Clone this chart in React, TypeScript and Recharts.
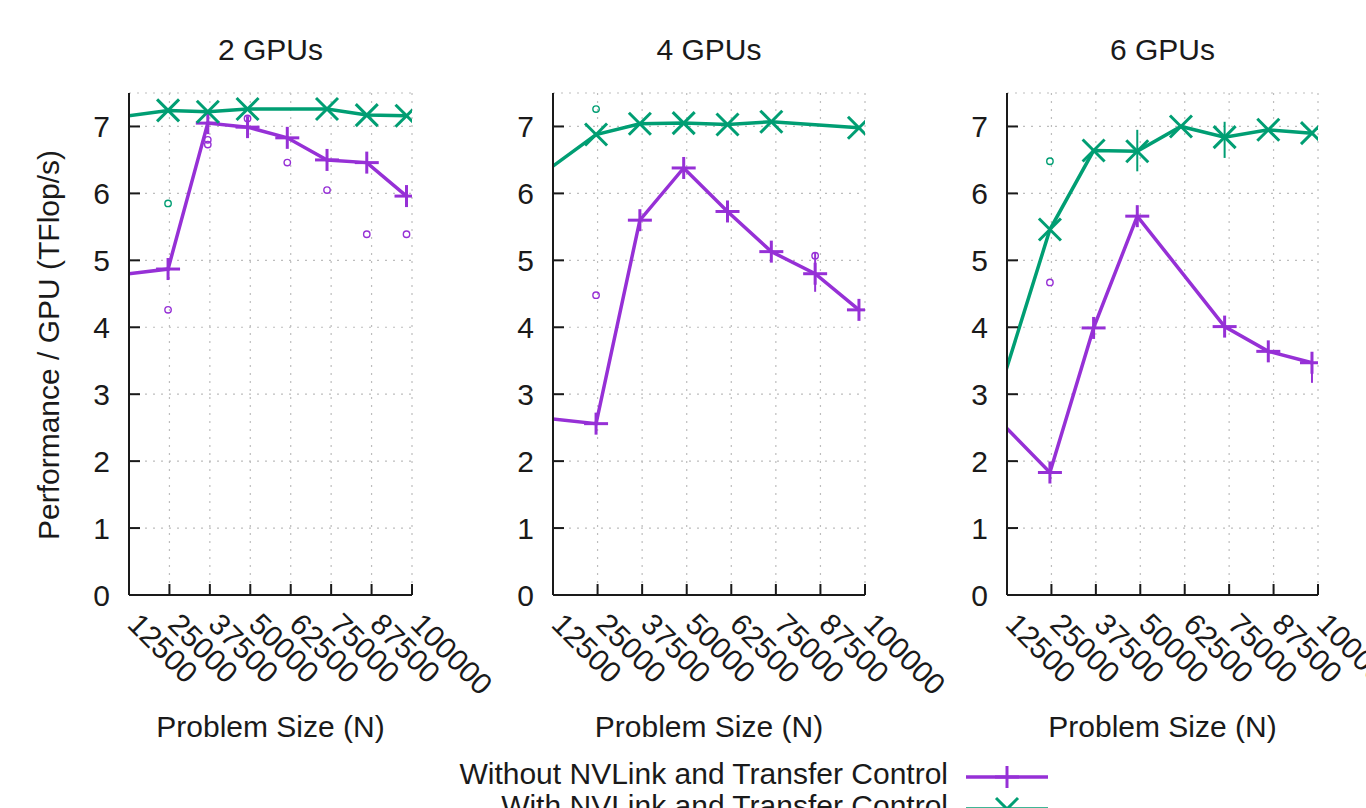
import React from "react";
import {
  CartesianGrid,
  ComposedChart,
  ErrorBar,
  Line,
  Scatter,
  XAxis,
  YAxis,
} from "recharts";

const SIZES = [12288, 24576, 36864, 49152, 61440, 73728, 86016, 98304];
const X_TICKS = [12500, 25000, 37500, 50000, 62500, 75000, 87500, 100000];
const Y_TICKS = [0, 1, 2, 3, 4, 5, 6, 7];
const TITLES = ["2 GPUs", "4 GPUs", "6 GPUs"];
const SERIES = ["Without NVLink and Transfer Control", "With NVLink and Transfer Control"];

// TFlop/s per GPU, one value per problem size (null = no run)
const WITHOUT_2 = [4.8, 4.87, 7.05, 6.99, 6.83, 6.5, 6.46, 5.96];
const WITH_2 = [7.16, 7.24, 7.22, 7.26, null, 7.26, 7.17, 7.16];
const WITHOUT_4 = [2.63, 2.56, 5.6, 6.38, 5.73, 5.13, 4.8, 4.26];
const WITH_4 = [6.4, 6.88, 7.04, 7.05, 7.03, 7.07, null, 6.98];
const WITHOUT_6 = [2.5, 1.83, 3.99, 5.66, null, 4.01, 3.64, 3.47];
const WITH_6 = [3.37, 5.46, 6.64, 6.63, 7.0, 6.84, 6.95, 6.9];

// run-to-run spread [below, above]
const WITHOUT_ERR_2 = [null, null, null, null, null, null, null, null];
const WITH_ERR_2 = [null, null, null, null, null, null, null, null];
const WITHOUT_ERR_4 = [null, null, null, null, null, null, [0.27, 0.31], null];
const WITH_ERR_4 = [null, null, null, null, null, null, null, null];
const WITHOUT_ERR_6 = [null, null, null, null, null, null, null, [0.3, 0.15]];
const WITH_ERR_6 = [null, null, null, [0.3, 0.32], null, [0.31, 0.23], null, null];

// single outlier runs [size, value]
const OUT_WITHOUT_2 = [
  [24576, 4.26], [36864, 6.8], [36864, 6.73], [49152, 7.12],
  [61440, 6.46], [73728, 6.05], [86016, 5.39], [98304, 5.39],
];
const OUT_WITH_2 = [[24576, 5.85]];
const OUT_WITHOUT_4 = [[24576, 4.48], [86016, 5.07]];
const OUT_WITH_4 = [[24576, 7.26]];
const OUT_WITHOUT_6 = [[24576, 4.67]];
const OUT_WITH_6 = [[24576, 6.48]];

const PURPLE = "#9630d6";
const GREEN = "#009e73";
const INK = "#1a1a1a";
const FONT = "'Liberation Sans', Arial, Helvetica, sans-serif";
const FS = 30;
const TICK_LEN = 11;

const PLOT_TOP = 93;
const PLOT_BOTTOM = 595;
const PAGE_W = 1366;
const PAGE_H = 808;
const AXIS_W = 100;
const RIGHT_PAD = 130;
const X_MIN = 12500;
const X_MAX = 100000;

const PANELS = [
  { left: 129, width: 283, without: WITHOUT_2, withLink: WITH_2, errWithout: WITHOUT_ERR_2, errWith: WITH_ERR_2, outWithout: OUT_WITHOUT_2, outWith: OUT_WITH_2 },
  { left: 553, width: 312, without: WITHOUT_4, withLink: WITH_4, errWithout: WITHOUT_ERR_4, errWith: WITH_ERR_4, outWithout: OUT_WITHOUT_4, outWith: OUT_WITH_4 },
  { left: 1007, width: 311, without: WITHOUT_6, withLink: WITH_6, errWithout: WITHOUT_ERR_6, errWith: WITH_ERR_6, outWithout: OUT_WITHOUT_6, outWith: OUT_WITH_6 },
];

function BottomTick(props: any) {
  const { x, y, payload } = props;
  const tx = x - 3;
  const ty = y + 31;
  return (
    <g>
      <line x1={x} y1={y} x2={x} y2={y - TICK_LEN} stroke={INK} strokeWidth={2} />
      <text x={tx} y={ty} transform={`rotate(45 ${tx} ${ty})`} fontSize={FS} fontFamily={FONT} fill={INK}>
        {payload.value}
      </text>
    </g>
  );
}

function LeftTick(props: any) {
  const { x, y, payload } = props;
  return (
    <g>
      <line x1={x} y1={y} x2={x + TICK_LEN} y2={y} stroke={INK} strokeWidth={2} />
      <text x={x - 19} y={y + 11} textAnchor="end" fontSize={FS} fontFamily={FONT} fill={INK}>
        {payload.value}
      </text>
    </g>
  );
}

function TopTick(props: any) {
  const { x, y } = props;
  return <line x1={x} y1={y} x2={x} y2={y + TICK_LEN} stroke={INK} strokeWidth={2} />;
}

function RightTick(props: any) {
  const { x, y } = props;
  return <line x1={x} y1={y} x2={x - TICK_LEN} y2={y} stroke={INK} strokeWidth={2} />;
}

function plusDot(color: string) {
  return (p: any) => {
    const { cx, cy, payload, index, value } = p;
    if (cx == null || cy == null || value == null || payload.n < X_MIN) return <g key={index} />;
    return (
      <g key={index}>
        <line x1={cx - 12} y1={cy} x2={cx + 12} y2={cy} stroke={color} strokeWidth={3} />
        <line x1={cx} y1={cy - 11} x2={cx} y2={cy + 11} stroke={color} strokeWidth={3} />
      </g>
    );
  };
}

function crossDot(color: string) {
  return (p: any) => {
    const { cx, cy, payload, index, value } = p;
    if (cx == null || cy == null || value == null || payload.n < X_MIN) return <g key={index} />;
    return (
      <g key={index}>
        <line x1={cx - 11} y1={cy - 11} x2={cx + 11} y2={cy + 11} stroke={color} strokeWidth={3} />
        <line x1={cx - 11} y1={cy + 11} x2={cx + 11} y2={cy - 11} stroke={color} strokeWidth={3} />
      </g>
    );
  };
}

function ring(color: string) {
  return (p: any) => <circle cx={p.cx} cy={p.cy} r={3.2} fill="none" stroke={color} strokeWidth={1.4} />;
}

function Panel({ panel }: { panel: (typeof PANELS)[number] }) {
  const rows = SIZES.map((n, i) => ({
    n,
    without: panel.without[i],
    withLink: panel.withLink[i],
    errWithout: panel.errWithout[i] ?? undefined,
    errWith: panel.errWith[i] ?? undefined,
  }));
  const outWithout = panel.outWithout.map(([n, v]) => ({ n, v }));
  const outWith = panel.outWith.map(([n, v]) => ({ n, v }));

  return (
    <div style={{ position: "absolute", left: panel.left - AXIS_W, top: 0 }}>
      <ComposedChart
        width={AXIS_W + panel.width + RIGHT_PAD}
        height={PAGE_H}
        data={rows}
        margin={{ top: PLOT_TOP, right: RIGHT_PAD, bottom: 0, left: 0 }}
      >
        <CartesianGrid stroke="#bdbdbd" strokeDasharray="2 6" strokeWidth={1.2} />
        <XAxis
          dataKey="n"
          type="number"
          domain={[X_MIN, X_MAX]}
          ticks={X_TICKS}
          interval={0}
          allowDataOverflow
          height={PAGE_H - PLOT_BOTTOM}
          tickSize={0}
          tickMargin={0}
          tick={(p: any) => <BottomTick {...p} />}
          axisLine={{ stroke: INK, strokeWidth: 2 }}
        />
        <XAxis
          xAxisId="top"
          orientation="top"
          type="number"
          domain={[X_MIN, X_MAX]}
          ticks={X_TICKS}
          interval={0}
          allowDataOverflow
          height={0}
          tickSize={0}
          tickMargin={0}
          tick={(p: any) => <TopTick {...p} />}
          axisLine={{ stroke: INK, strokeWidth: 2 }}
        />
        <YAxis
          type="number"
          domain={[0, 7.5]}
          ticks={Y_TICKS}
          interval={0}
          allowDataOverflow
          width={AXIS_W}
          tickSize={0}
          tickMargin={0}
          tick={(p: any) => <LeftTick {...p} />}
          axisLine={{ stroke: INK, strokeWidth: 2 }}
        />
        <YAxis
          yAxisId="right"
          orientation="right"
          type="number"
          domain={[0, 7.5]}
          ticks={Y_TICKS}
          interval={0}
          allowDataOverflow
          width={0}
          tickSize={0}
          tickMargin={0}
          tick={(p: any) => <RightTick {...p} />}
          axisLine={{ stroke: INK, strokeWidth: 2 }}
        />
        <Scatter data={outWith} dataKey="v" shape={ring(GREEN)} isAnimationActive={false} />
        <Scatter data={outWithout} dataKey="v" shape={ring(PURPLE)} isAnimationActive={false} />
        <Line
          dataKey="without"
          name={SERIES[0]}
          stroke={PURPLE}
          strokeWidth={3.5}
          connectNulls
          dot={plusDot(PURPLE)}
          activeDot={false}
          isAnimationActive={false}
        >
          <ErrorBar dataKey="errWithout" direction="y" width={0} stroke={PURPLE} strokeWidth={2} />
        </Line>
        <Line
          dataKey="withLink"
          name={SERIES[1]}
          stroke={GREEN}
          strokeWidth={3.5}
          connectNulls
          dot={crossDot(GREEN)}
          activeDot={false}
          isAnimationActive={false}
        >
          <ErrorBar dataKey="errWith" direction="y" width={0} stroke={GREEN} strokeWidth={2} />
        </Line>
      </ComposedChart>
    </div>
  );
}

function Overlay() {
  const text = { fontFamily: FONT, fontSize: FS, fill: INK } as const;
  return (
    <svg width={PAGE_W} height={PAGE_H} style={{ position: "absolute", left: 0, top: 0, pointerEvents: "none" }}>
      {PANELS.map((p, i) => (
        <g key={i}>
          <text x={p.left + p.width / 2} y={60} textAnchor="middle" {...text}>
            {TITLES[i]}
          </text>
          <text x={p.left + p.width / 2} y={737} textAnchor="middle" {...text}>
            Problem Size (N)
          </text>
        </g>
      ))}
      <text x={59} y={345} transform="rotate(-90 59 345)" textAnchor="middle" {...text}>
        Performance / GPU (TFlop/s)
      </text>
      <text x={948} y={784} textAnchor="end" {...text}>{SERIES[0]}</text>
      <line x1={966} y1={777} x2={1048} y2={777} stroke={PURPLE} strokeWidth={3.5} />
      <line x1={995} y1={777} x2={1019} y2={777} stroke={PURPLE} strokeWidth={3} />
      <line x1={1007} y1={766} x2={1007} y2={788} stroke={PURPLE} strokeWidth={3} />
      <text x={948} y={816} textAnchor="end" {...text}>{SERIES[1]}</text>
      <line x1={966} y1={809} x2={1048} y2={809} stroke={GREEN} strokeWidth={3.5} />
      <line x1={996} y1={798} x2={1018} y2={820} stroke={GREEN} strokeWidth={3} />
      <line x1={996} y1={820} x2={1018} y2={798} stroke={GREEN} strokeWidth={3} />
    </svg>
  );
}

export default function App() {
  return (
    <div
      style={{
        position: "absolute",
        left: 0,
        top: 0,
        width: PAGE_W,
        height: PAGE_H,
        overflow: "hidden",
        background: "#fff",
      }}
    >
      {PANELS.map((p, i) => (
        <Panel key={i} panel={p} />
      ))}
      <Overlay />
    </div>
  );
}
